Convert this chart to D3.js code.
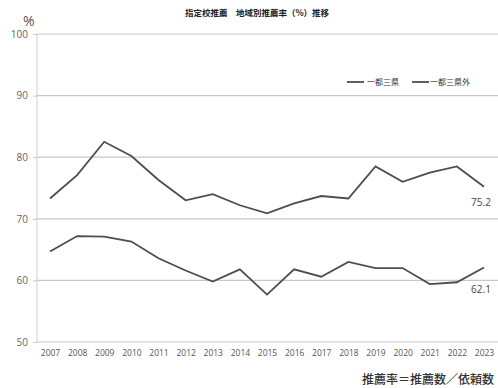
<!DOCTYPE html>
<html>
<head>
<meta charset="utf-8">
<script src="https://cdn.jsdelivr.net/npm/d3@7"></script>
<style>
  body { margin: 0; background: #fff; }
  svg { font-family: "Noto Sans CJK JP", "Open Sans", sans-serif; }
</style>
</head>
<body>
<div id="chart"></div>
<script>
// years on the x axis
var years = [2007, 2008, 2009, 2010, 2011, 2012, 2013, 2014, 2015, 2016, 2017, 2018, 2019, 2020, 2021, 2022, 2023];
// 一都三県
var inside = [73.3, 77.1, 82.5, 80.2, 76.3, 73.0, 74.0, 72.2, 70.9, 72.5, 73.7, 73.3, 78.5, 76.0, 77.5, 78.5, 75.2];
// 一都三県外
var outside = [64.7, 67.2, 67.1, 66.3, 63.6, 61.6, 59.8, 61.8, 57.7, 61.8, 60.6, 63.0, 62.0, 62.0, 59.4, 59.7, 62.1];
var yTicks = [50, 60, 70, 80, 90, 100];
var seriesNames = ["一都三県", "一都三県外"];

var svgWidth = 498, svgHeight = 388;
var margin = { top: 34, right: 0, bottom: 46, left: 37 };
var width = svgWidth - margin.left - margin.right;
var height = svgHeight - margin.top - margin.bottom;

var svg = d3.select("#chart").append("svg")
  .attr("width", svgWidth)
  .attr("height", svgHeight);

var chartGroup = svg.append("g")
  .attr("transform", `translate(${margin.left}, ${margin.top})`);

var xScale = d3.scalePoint()
  .domain(years)
  .range([13, 447]);

var yScale = d3.scaleLinear()
  .domain([50, 100])
  .range([height, 0]);

// horizontal gridlines
chartGroup.selectAll(".grid")
  .data(yTicks)
  .enter()
  .append("line")
  .attr("x1", 0)
  .attr("x2", width)
  .attr("y1", d => yScale(d))
  .attr("y2", d => yScale(d))
  .attr("stroke", "#c8c8c8")
  .attr("stroke-width", 1.2);

// y axis line
chartGroup.append("line")
  .attr("x1", 0).attr("x2", 0)
  .attr("y1", 0).attr("y2", height)
  .attr("stroke", "#cfcfcf");

// y axis
var leftAxis = d3.axisLeft(yScale).tickValues(yTicks).tickSize(4).tickPadding(5);
var yAxis = chartGroup.append("g").call(leftAxis);
yAxis.select(".domain").remove();
yAxis.selectAll("line").attr("stroke", "#c8c8c8");
yAxis.selectAll("text")
  .attr("fill", "#666")
  .attr("font-size", "10px")
  .attr("font-family", "'Open Sans', sans-serif");

// x axis
var bottomAxis = d3.axisBottom(xScale).tickSize(0).tickPadding(8);
var xAxis = chartGroup.append("g")
  .attr("transform", `translate(0, ${height})`)
  .call(bottomAxis);
xAxis.select(".domain").remove();
xAxis.selectAll("text")
  .attr("fill", "#555")
  .attr("font-size", "8.5px")
  .attr("font-family", "'Open Sans', sans-serif");

// lines
var line = d3.line()
  .x((d, i) => xScale(years[i]))
  .y(d => yScale(d));

[inside, outside].forEach(function(series) {
  chartGroup.append("path")
    .datum(series)
    .attr("d", line)
    .attr("fill", "none")
    .attr("stroke", "#4d4d4d")
    .attr("stroke-width", 1.8);
});

// end labels
chartGroup.append("text")
  .attr("x", xScale(2023) - 3)
  .attr("y", yScale(inside[inside.length - 1]) + 19)
  .attr("text-anchor", "middle")
  .attr("font-size", "10px")
  .attr("fill", "#444")
  .attr("font-family", "'Open Sans', sans-serif")
  .text(inside[inside.length - 1].toFixed(1));

chartGroup.append("text")
  .attr("x", xScale(2023) - 3)
  .attr("y", yScale(outside[outside.length - 1]) + 26)
  .attr("text-anchor", "middle")
  .attr("font-size", "10px")
  .attr("fill", "#444")
  .attr("font-family", "'Open Sans', sans-serif")
  .text(outside[outside.length - 1].toFixed(1));

// percent unit
svg.append("text")
  .attr("x", 23)
  .attr("y", 26)
  .attr("font-size", "14px")
  .attr("fill", "#555")
  .attr("font-family", "'Open Sans', sans-serif")
  .text("%");

// title
svg.append("text")
  .attr("x", 257)
  .attr("y", 16)
  .attr("text-anchor", "middle")
  .attr("font-size", "8.5px")
  .attr("font-weight", "bold")
  .attr("fill", "#222")
  .text("指定校推薦　地域別推薦率（%）推移");

// legend
var legendX = [347, 412];
var legendTextX = [367, 430];
seriesNames.forEach(function(name, i) {
  svg.append("line")
    .attr("x1", legendX[i]).attr("x2", legendX[i] + 17)
    .attr("y1", 82).attr("y2", 82)
    .attr("stroke", "#4d4d4d")
    .attr("stroke-width", 1.8);
  svg.append("text")
    .attr("x", legendTextX[i])
    .attr("y", 85)
    .attr("font-size", "8px")
    .attr("fill", "#333")
    .text(name);
});

// footnote
svg.append("text")
  .attr("x", 494)
  .attr("y", 384)
  .attr("text-anchor", "end")
  .attr("font-size", "12px")
  .attr("font-weight", "500")
  .attr("fill", "#333")
  .text("推薦率＝推薦数／依頼数");
</script>
</body>
</html>
